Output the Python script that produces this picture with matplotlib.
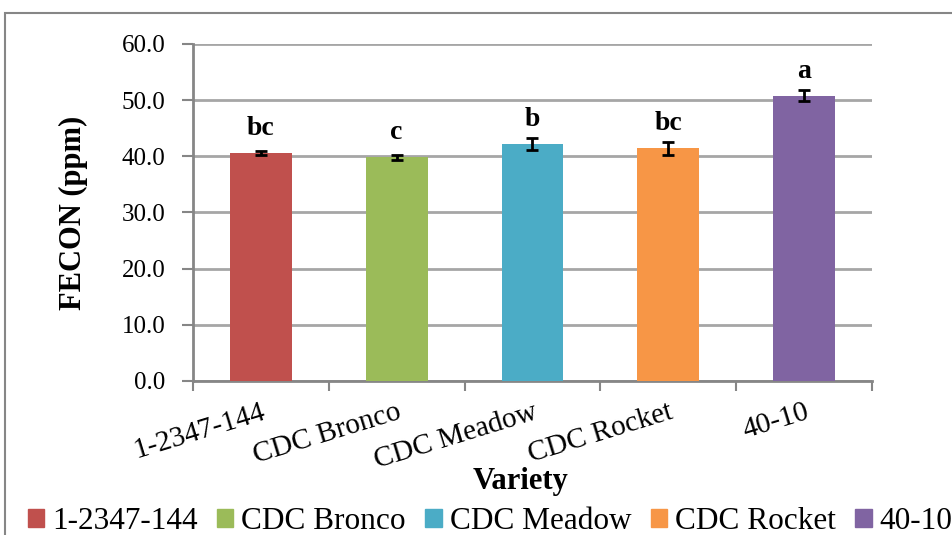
import numpy as np
import matplotlib
matplotlib.use('Agg')
import matplotlib.pyplot as plt
from matplotlib.patches import Rectangle

plt.rcParams['font.family'] = ['Liberation Serif', 'DejaVu Serif']

varieties = ['1-2347-144', 'CDC Bronco', 'CDC Meadow', 'CDC Rocket', '40-10']
fecon = [40.6, 39.8, 42.2, 41.4, 50.8]
err = [0.4, 0.45, 1.1, 1.2, 1.0]
letters = ['bc', 'c', 'b', 'bc', 'a']
colors = ['#C0504D', '#9BBB59', '#4BACC6', '#F79646', '#8064A2']

fig = plt.figure(figsize=(9.53, 5.35), dpi=100)
ax = fig.add_axes([0.2025, 0.2879, 0.7125, 0.63])

x = np.arange(len(varieties))
ax.bar(x, fecon, width=0.456, color=colors, zorder=3)
ax.errorbar(x, fecon, yerr=err, fmt='none', ecolor='black', elinewidth=2,
            capsize=4.5, capthick=2, zorder=4)
for i in range(len(x)):
    ax.annotate(letters[i], (x[i], fecon[i]), xytext=(0, 13), textcoords='offset points',
                ha='center', va='baseline', fontsize=20, fontweight='bold')

ax.set_xlim(-0.5, len(x) - 0.5)
ax.set_ylim(0, 60)
ax.set_yticks(np.arange(0, 61, 10))
ax.set_yticklabels(['%.1f' % v for v in np.arange(0, 61, 10)], fontsize=18)
ax.yaxis.grid(True, color='#A6A6A6', linewidth=2, zorder=0)
ax.set_axisbelow(True)

ax.set_xticks(np.arange(-0.5, len(x), 1.0))
ax.set_xticklabels([])
ax.set_xticks(x, minor=True)
ax.set_xticklabels(varieties, minor=True, rotation=17, fontsize=21,
                   ha='right', va='top', rotation_mode='anchor')
ax.tick_params(axis='x', which='minor', length=0, pad=13)
ax.tick_params(axis='x', which='major', length=7, color='#868686', width=1.5)
ax.tick_params(axis='y', length=8, color='#868686', width=1.5, pad=12)

for s in ['top', 'right']:
    ax.spines[s].set_visible(False)
for s in ['left', 'bottom']:
    ax.spines[s].set_color('#868686')
    ax.spines[s].set_linewidth(2)

ax.set_ylabel('FECON (ppm)', fontsize=22, fontweight='bold')
ax.yaxis.set_label_coords(-0.155, 0.5)
ax.set_xlabel('Variety', fontsize=22, fontweight='bold')
ax.xaxis.set_label_coords(0.483, -0.255)

# outer chart border
fig.patches.append(Rectangle((0.0055, -0.05), 1.2, 1.026, transform=fig.transFigure,
                             fill=False, edgecolor='#868686', linewidth=1.5))

handles = [Rectangle((0, 0), 1, 1, color=c) for c in colors]
fig.legend(handles, varieties, loc='center left', bbox_to_anchor=(0.029, 0.025),
           ncol=5, frameon=False, fontsize=22.5, handlelength=0.52, handleheight=0.5,
           handletextpad=0.26, columnspacing=0.62, borderaxespad=0, borderpad=0)

plt.savefig('out.png', dpi=100)
